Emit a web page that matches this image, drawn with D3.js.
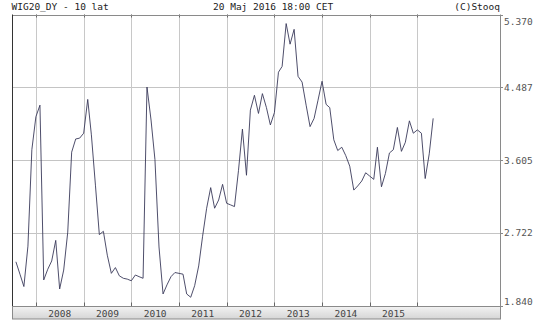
<!DOCTYPE html>
<html>
<head>
<meta charset="utf-8">
<script src="https://cdn.jsdelivr.net/npm/d3@7"></script>
<style>
  html, body { margin: 0; padding: 0; background: #fff; }
  svg { display: block; }
  text { font-family: "DejaVu Sans Mono", "Liberation Mono", monospace; font-size: 9.5px; }
</style>
</head>
<body>
<svg id="chart" width="540" height="323"></svg>
<script>
// ---- data (monthly dividend yield of WIG20, from Aug 2007 to May 2016) ----
const firstMonth = "2007-08";
const values2007 = [2.37, 2.22, 2.07, 2.56, 3.73];
const values2008 = [4.13, 4.27, 2.15, 2.28, 2.38, 2.63, 2.04, 2.27, 2.73, 3.70, 3.86, 3.87];
const values2009 = [3.93, 4.34, 3.91, 3.30, 2.70, 2.74, 2.45, 2.23, 2.30, 2.20, 2.17, 2.16];
const values2010 = [2.14, 2.21, 2.19, 2.17, 4.49, 4.09, 3.61, 2.55, 1.98, 2.09, 2.19, 2.24];
const values2011 = [2.23, 2.22, 1.98, 1.94, 2.08, 2.32, 2.68, 3.02, 3.27, 3.02, 3.12, 3.31];
const values2012 = [3.08, 3.06, 3.04, 3.48, 3.98, 3.42, 4.21, 4.39, 4.17, 4.41, 4.24, 4.03];
const values2013 = [4.18, 4.67, 4.74, 5.26, 5.01, 5.19, 4.62, 4.55, 4.27, 4.01, 4.11, 4.33];
const values2014 = [4.56, 4.28, 4.24, 3.85, 3.72, 3.76, 3.66, 3.53, 3.24, 3.29, 3.35, 3.45];
const values2015 = [3.41, 3.37, 3.76, 3.28, 3.44, 3.69, 3.73, 4.00, 3.71, 3.82, 4.08, 3.93];
const values2016 = [3.97, 3.93, 3.38, 3.68, 4.11];

const yTicks = [1.840, 2.722, 3.605, 4.487, 5.370];
const yearLabels = ["2008", "2009", "2010", "2011", "2012", "2013", "2014", "2015"];
const yearLines = ["2008", "2009", "2010", "2011", "2012", "2013", "2014", "2015", "2016"];
const xStart = "2007-07-02", xEnd = "2017-09-25";

const titleLeft = "WIG20_DY - 10 lat";
const titleCenter = "20 Maj 2016 18:00 CET";
const titleRight = "(C)Stooq";

// ---- build series ----
const parseMonth = d3.timeParse("%Y-%m");
const parseDay = d3.timeParse("%Y-%m-%d");
const allValues = [].concat(values2007, values2008, values2009, values2010, values2011,
  values2012, values2013, values2014, values2015, values2016);
const start = parseMonth(firstMonth);
const series = allValues.map((v, i) => ({ date: d3.timeMonth.offset(start, i), value: v }));

// ---- layout ----
const svg = d3.select("#chart");
const L = 12, R = 500, T = 14.5, B = 305.5;

const x = d3.scaleTime().domain([parseDay(xStart), parseDay(xEnd)]).range([L, R]);
const y = d3.scaleLinear().domain([yTicks[0], yTicks[yTicks.length - 1]]).range([B, T]);

// plot background
svg.append("rect").attr("x", L).attr("y", T).attr("width", R - L).attr("height", B - T)
  .attr("fill", "#fff");

// horizontal grid lines
svg.append("g").selectAll("line").data(yTicks.slice(1, -1)).join("line")
  .attr("x1", L).attr("x2", R + 3)
  .attr("y1", d => Math.round(y(d)) + 0.5).attr("y2", d => Math.round(y(d)) + 0.5)
  .attr("stroke", "#c4c4c4").attr("stroke-width", 1);

// vertical year grid lines
const yearDates = yearLines.map(s => d3.timeParse("%Y")(s));
svg.append("g").selectAll("line").data(yearDates).join("line")
  .attr("x1", d => Math.round(x(d)) + 0.5).attr("x2", d => Math.round(x(d)) + 0.5)
  .attr("y1", T).attr("y2", B)
  .attr("stroke", "#c8c8c8").attr("stroke-width", 1);

// small dark tick marks top & bottom
const tickG = svg.append("g").attr("stroke", "#666").attr("stroke-width", 1);
tickG.selectAll(".tt").data(yearDates).join("line").attr("class", "tt")
  .attr("x1", d => Math.round(x(d)) + 0.5).attr("x2", d => Math.round(x(d)) + 0.5)
  .attr("y1", T).attr("y2", T + 3);
tickG.selectAll(".tb").data(yearDates).join("line").attr("class", "tb")
  .attr("x1", d => Math.round(x(d)) + 0.5).attr("x2", d => Math.round(x(d)) + 0.5)
  .attr("y1", B - 3).attr("y2", B + 1);

// right ticks
svg.append("g").selectAll("line").data(yTicks).join("line")
  .attr("x1", R).attr("x2", R + 3)
  .attr("y1", d => Math.round(y(d)) + 0.5).attr("y2", d => Math.round(y(d)) + 0.5)
  .attr("stroke", "#888");

// plot frame
svg.append("line").attr("x1", L).attr("x2", R).attr("y1", Math.round(T) + 0.5).attr("y2", Math.round(T) + 0.5)
  .attr("stroke", "#8a8a8a");
svg.append("line").attr("x1", R + 0.5).attr("x2", R + 0.5).attr("y1", T).attr("y2", B + 1)
  .attr("stroke", "#8a8a8a");
svg.append("line").attr("x1", L + 0.5).attr("x2", L + 0.5).attr("y1", T).attr("y2", B + 1)
  .attr("stroke", "#333");

// x-axis band
const defs = svg.append("defs");
const grad = defs.append("linearGradient").attr("id", "band").attr("x1", 0).attr("x2", 0).attr("y1", 0).attr("y2", 1);
grad.append("stop").attr("offset", "0%").attr("stop-color", "#f2f2f2");
grad.append("stop").attr("offset", "100%").attr("stop-color", "#d6d6d6");
svg.append("rect").attr("x", L + 0.5).attr("y", 306.5).attr("width", R - L).attr("height", 12.5)
  .attr("fill", "url(#band)").attr("stroke", "#8a8a8a");

// year labels centred in each year interval
svg.append("g").selectAll("text").data(yearLabels).join("text")
  .attr("x", d => {
    const a = d3.timeParse("%Y")(d), b = d3.timeYear.offset(a, 1);
    return (x(a) + x(b)) / 2;
  })
  .attr("y", 316.5)
  .attr("text-anchor", "middle").attr("fill", "#444")
  .text(d => d);

// right-hand value labels
svg.append("g").selectAll("text").data(yTicks).join("text")
  .attr("x", 504)
  .attr("y", (d, i) => {
    let yy = y(d) + 3.5;
    if (i === yTicks.length - 1) yy = y(d) + 10;
    if (i === 0) yy = y(d) - 0.5;
    return yy;
  })
  .attr("fill", "#555")
  .text(d => d3.format(".3f")(d));

// titles
svg.append("text").attr("x", 11.5).attr("y", 10).attr("fill", "#222").text(titleLeft);
svg.append("text").attr("x", 213).attr("y", 10).attr("fill", "#222").text(titleCenter);
svg.append("text").attr("x", 500).attr("y", 10).attr("text-anchor", "end").attr("fill", "#222").text(titleRight);

// data line
const line = d3.line().x(d => x(d.date)).y(d => y(d.value));
svg.append("path").datum(series)
  .attr("d", line)
  .attr("fill", "none")
  .attr("stroke", "#3a3a5a")
  .attr("stroke-width", 0.9)
  .attr("stroke-linejoin", "round");
</script>
</body>
</html>
